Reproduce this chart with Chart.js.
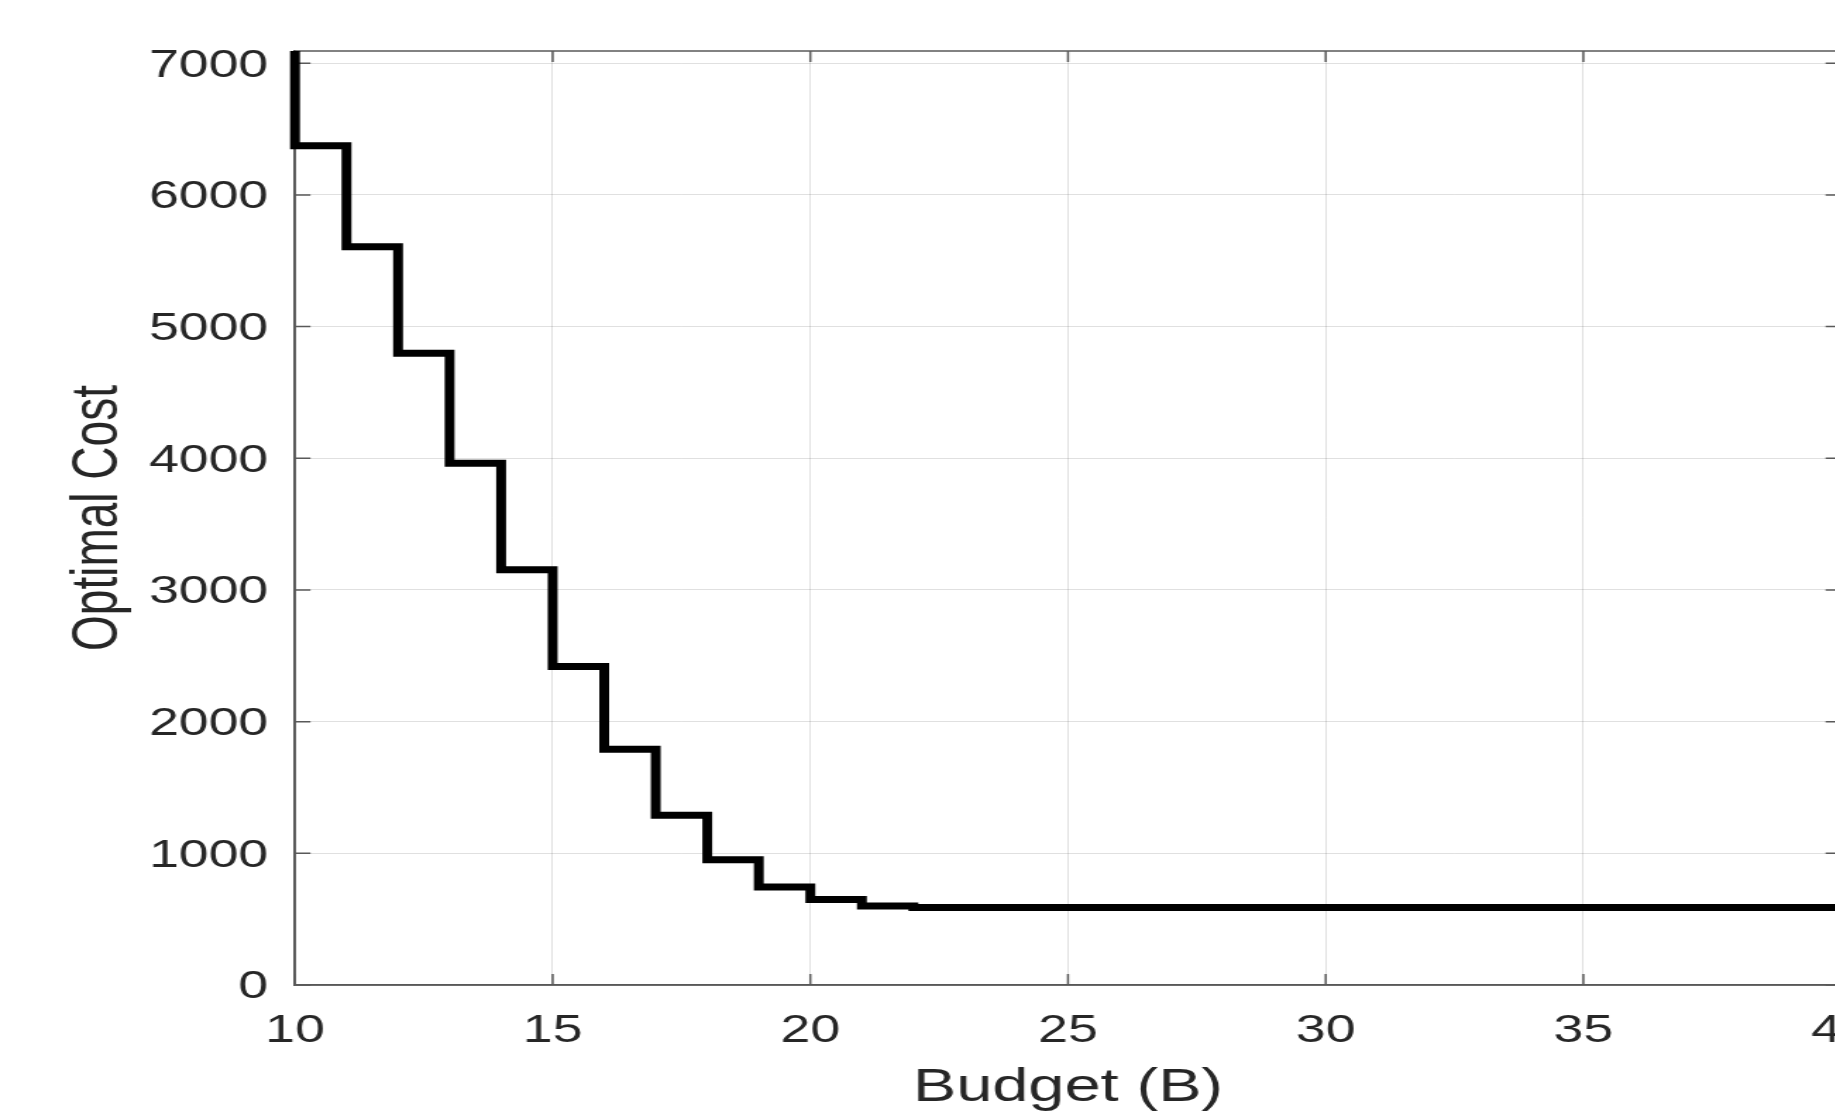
<!DOCTYPE html>
<html>
<head>
<meta charset="utf-8">
<script src="https://cdn.jsdelivr.net/npm/chart.js@4/dist/chart.umd.min.js"></script>
<style>
  html, body { margin: 0; padding: 0; background: #fff; overflow: hidden; }
  #wrap { position: absolute; left: 0; top: 0; width: 1835px; height: 1114px; overflow: hidden; }
  /* the source figure is stretched sideways, so the canvas is too */
  #inner { width: 1320px; height: 1114px; transform: scaleX(1.41); transform-origin: 0 0; }
</style>
</head>
<body>
<div id="wrap"><div id="inner"><canvas id="c" width="1320" height="1114"></canvas></div></div>
<script>
const budgets = [9, 10, 11, 12, 13, 14, 15, 16, 17, 18, 19, 20, 21, 22, 23, 24, 25, 26, 27, 28, 29, 30, 31, 32, 33, 34, 35, 36, 37, 38, 39, 40];
const costs = [7150, 6374, 5607, 4797, 3963, 3153, 2418, 1790, 1290, 951, 745, 650, 600, 588, 588, 588, 588, 588, 588, 588, 588, 588, 588, 588, 588, 588, 588, 588, 588, 588, 588, 588];
const xTicks = [10, 15, 20, 25, 30, 35, 40];
const yTicks = [0, 1000, 2000, 3000, 4000, 5000, 6000, 7000];

const textColor = "#262626";
const axisColor = "#595959";
const gridColor = "rgba(0,0,0,0.12)";
const tickLen = 11;

/* FRAME + INWARD TICKS */
const boxPlugin = {
  id: "box",
  beforeDatasetsDraw(chart){
    const {ctx, chartArea: a, scales: {x, y}} = chart;
    ctx.save();
    ctx.strokeStyle = axisColor;
    ctx.lineWidth = 1.5;
    ctx.strokeRect(a.left, a.top, a.right - a.left, a.bottom - a.top);
    ctx.beginPath();
    xTicks.forEach(v => {
      const px = x.getPixelForValue(v);
      ctx.moveTo(px, a.bottom); ctx.lineTo(px, a.bottom - tickLen);
      ctx.moveTo(px, a.top); ctx.lineTo(px, a.top + tickLen);
    });
    yTicks.forEach(v => {
      const py = y.getPixelForValue(v);
      ctx.moveTo(a.left, py); ctx.lineTo(a.left + tickLen, py);
      ctx.moveTo(a.right, py); ctx.lineTo(a.right - tickLen, py);
    });
    ctx.stroke();
    ctx.restore();
  }
};

const font = {family: "'Liberation Sans', Arial, Helvetica, sans-serif", size: 38};
const titleFont = {family: "'Liberation Sans', Arial, Helvetica, sans-serif", size: 46};

new Chart(document.getElementById("c"), {
  type: "line",
  data: {
    datasets: [{
      data: budgets.map((b, i) => ({x: b, y: costs[i]})),
      borderColor: "#000",
      borderWidth: 7,
      borderJoinStyle: "miter",
      borderCapStyle: "butt",
      stepped: "before",
      pointRadius: 0,
      fill: false,
      clip: {left: 6, top: 0, right: 6, bottom: 6}
    }]
  },
  options: {
    responsive: false,
    animation: false,
    events: [],
    layout: {padding: {top: 51, right: 14.3, bottom: 0, left: 0}},
    plugins: {legend: {display: false}, tooltip: {enabled: false}},
    scales: {
      x: {
        type: "linear",
        min: 10, max: 40,
        afterBuildTicks: s => { s.ticks = xTicks.map(v => ({value: v})); },
        afterFit: s => { s.height = 129; s.paddingLeft = 0; s.paddingRight = 0; },
        grid: {color: gridColor, lineWidth: 1, drawTicks: false},
        border: {display: true, color: axisColor, width: 1.5},
        ticks: {color: textColor, font: font, padding: 24, maxRotation: 0, autoSkip: false, callback: v => String(v)},
        title: {display: true, text: "Budget (B)", color: textColor, font: titleFont, padding: {top: 0, bottom: -2}}
      },
      y: {
        min: 0, max: 7093,
        afterBuildTicks: s => { s.ticks = yTicks.map(v => ({value: v})); },
        afterFit: s => { s.width = 209.2; s.paddingTop = 0; s.paddingBottom = 0; },
        grid: {color: gridColor, lineWidth: 1, drawTicks: false},
        border: {display: true, color: axisColor, width: 1.5},
        ticks: {color: textColor, font: font, padding: 19, labelOffset: 3, callback: v => String(v)},
        title: {display: true, text: "Optimal Cost", color: textColor, font: titleFont, padding: {top: 43, bottom: 0}}
      }
    }
  },
  plugins: [boxPlugin]
});
</script>
</body>
</html>
